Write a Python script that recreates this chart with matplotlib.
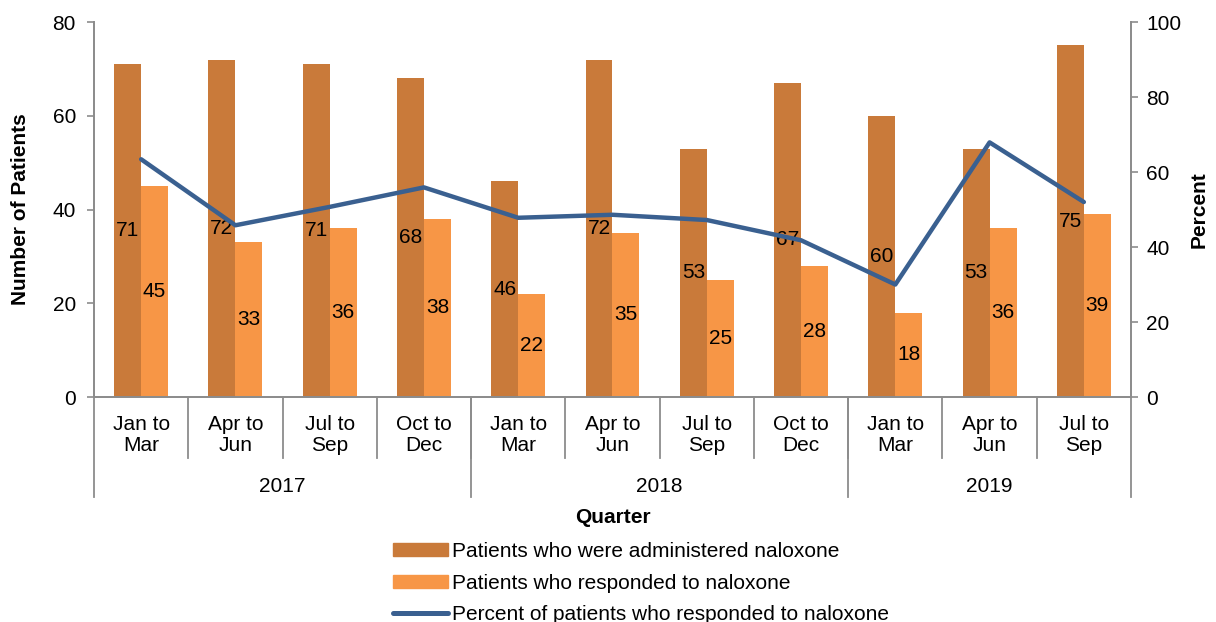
import matplotlib
matplotlib.use('Agg')
import matplotlib.pyplot as plt
import matplotlib.transforms as mtransforms
from matplotlib.patches import Patch
from matplotlib.lines import Line2D
import numpy as np

plt.rcParams['font.family'] = ['Liberation Sans', 'DejaVu Sans']

quarters = ["Jan to\nMar", "Apr to\nJun", "Jul to\nSep", "Oct to\nDec",
            "Jan to\nMar", "Apr to\nJun", "Jul to\nSep", "Oct to\nDec",
            "Jan to\nMar", "Apr to\nJun", "Jul to\nSep"]
years = ["2017", "2018", "2019"]
year_counts = [4, 4, 3]
administered = [71, 72, 71, 68, 46, 72, 53, 67, 60, 53, 75]
responded = [45, 33, 36, 38, 22, 35, 25, 28, 18, 36, 39]
percent = [63.4, 45.8, 50.7, 55.9, 47.8, 48.6, 47.2, 41.8, 30.0, 67.9, 52.0]

DARK = "#C97A3A"
LIGHT = "#F79646"
LINE = "#3A6090"
AXIS = "#8C8C8C"
FS = 15

fig = plt.figure(figsize=(12.16, 6.22), dpi=100)
ax = fig.add_axes([0.0773, 0.3617, 0.8528, 0.6029])
ax2 = ax.twinx()

x = np.arange(len(quarters))
w = 0.286
b1 = ax.bar(x - w / 2, administered, w, color=DARK)
b2 = ax.bar(x + w / 2, responded, w, color=LIGHT)
for rects, vals in ((b1, administered), (b2, responded)):
    for r, v in zip(rects, vals):
        ax.text(r.get_x() + r.get_width() / 2, v / 2, str(v), ha='center', va='center',
                fontsize=FS, color='black')

ax2.plot(x, percent, color=LINE, linewidth=3.2, solid_capstyle='round', zorder=3)

ax.set_xlim(-0.5, len(quarters) - 0.5)
ax.set_ylim(0, 80)
ax2.set_ylim(0, 100)
ax.set_yticks(range(0, 81, 20))
ax2.set_yticks(range(0, 101, 20))
ax.tick_params(axis='y', labelsize=FS, color=AXIS, length=5, width=1.2, pad=8)
ax2.tick_params(axis='y', labelsize=FS, color=AXIS, length=5, width=1.2, pad=6)
ax.set_xticks([])

for a in (ax, ax2):
    a.spines['top'].set_visible(False)
    for s in ('left', 'right', 'bottom'):
        a.spines[s].set_color(AXIS)
        a.spines[s].set_linewidth(1.3)

ax.set_ylabel("Number of Patients", fontsize=FS, fontweight='bold', labelpad=16)
ax2.set_ylabel("Percent", fontsize=FS, fontweight='bold', labelpad=6)

# multi-level category axis
trans = mtransforms.blended_transform_factory(ax.transData, ax.transAxes)
for i, q in enumerate(quarters):
    ax.text(i, -0.048, q, transform=trans, ha='center', va='top', fontsize=FS,
            linespacing=1.15)
for i in range(1, len(quarters)):
    ax.plot([i - 0.5, i - 0.5], [0, -0.163], transform=trans, color=AXIS, lw=1.3,
            clip_on=False)
start = 0
edges = [-0.5]
for yr, n in zip(years, year_counts):
    ax.text(start + (n - 1) / 2, -0.238, yr, transform=trans, ha='center', va='center',
            fontsize=FS)
    start += n
    edges.append(start - 0.5)
for e in edges:
    ax.plot([e, e], [0, -0.267], transform=trans, color=AXIS, lw=1.3, clip_on=False)

ax.text(0.5, -0.322, "Quarter", transform=ax.transAxes, ha='center', va='center',
        fontsize=FS, fontweight='bold')

handles = [Patch(color=DARK), Patch(color=LIGHT),
           Line2D([], [], color=LINE, lw=3.6, solid_capstyle='round')]
labels = ["Patients who were administered naloxone",
          "Patients who responded to naloxone",
          "Percent of patients who responded to naloxone"]
fig.legend(handles, labels, loc='upper center', bbox_to_anchor=(0.527, 0.146),
           frameon=False, fontsize=FS, handlelength=2.65, handleheight=0.6,
           handletextpad=0.2, labelspacing=0.62, borderpad=0)

fig.savefig("out.png", dpi=100)
